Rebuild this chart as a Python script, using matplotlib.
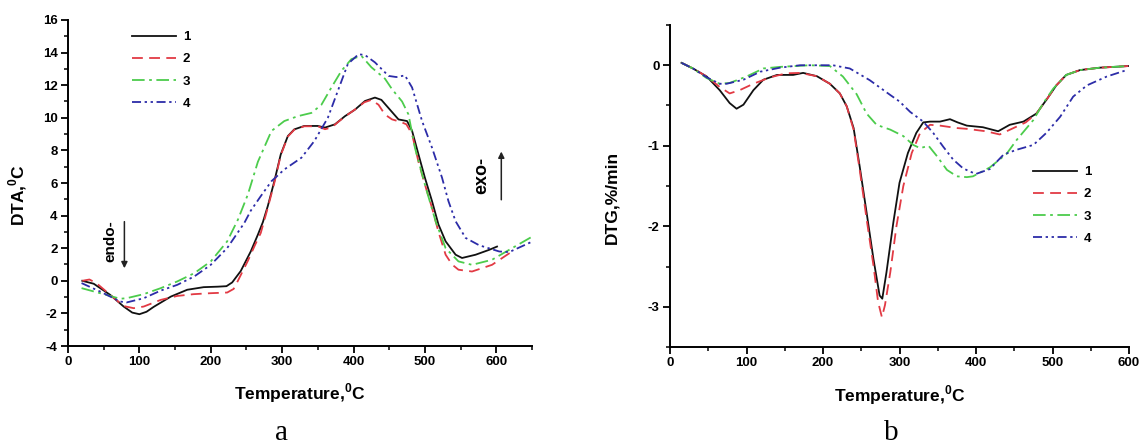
import matplotlib
matplotlib.use("Agg")
import matplotlib.pyplot as plt
from matplotlib.ticker import MultipleLocator

plt.rcParams['font.family'] = ['Liberation Sans', 'DejaVu Sans']
plt.rcParams['font.weight'] = 'bold'
plt.rcParams['axes.unicode_minus'] = False
plt.rcParams['mathtext.fontset'] = 'custom'
plt.rcParams['mathtext.bf'] = 'Liberation Sans:bold'
plt.rcParams['mathtext.rm'] = 'Liberation Sans:bold'

# ---- (a) DTA curves: temperature (deg C) and DTA (deg C) ----
dta_t1 = [20, 36, 59, 78, 90, 100, 110, 120, 144, 167, 190, 210, 222, 230, 242, 256, 266, 273, 280, 289,
          298, 308, 317, 331, 350, 360, 374, 388, 402, 416, 430, 439, 453, 463, 475, 482, 491, 500, 510,
          519, 529, 543, 552, 571, 590, 601]
dta_y1 = [0.0, -0.18, -0.86, -1.58, -1.95, -2.05, -1.9, -1.6, -0.97, -0.55, -0.39, -0.36, -0.33, -0.1, 0.6,
          1.8, 2.83, 3.6, 4.6, 6.1, 7.75, 8.88, 9.29, 9.5, 9.5, 9.4, 9.6, 10.1, 10.5, 11.03, 11.24, 11.1,
          10.4, 9.9, 9.8, 9.2, 7.75, 6.32, 4.88, 3.45, 2.42, 1.6, 1.4, 1.6, 1.9, 2.1]

dta_t2 = [20, 30, 40, 59, 78, 92, 106, 130, 153, 176, 200, 223, 232, 238, 252, 262, 270, 280, 289, 298,
          308, 317, 331, 350, 360, 369, 380, 392, 405, 415, 425, 435, 444, 454, 466, 474, 482, 491, 500,
          510, 519, 529, 538, 547, 566, 594, 622]
dta_y2 = [0.0, 0.08, -0.15, -0.86, -1.55, -1.68, -1.58, -1.17, -0.93, -0.82, -0.76, -0.72, -0.5, 0.0, 1.23,
          2.2, 2.93, 4.5, 6.0, 7.7, 8.85, 9.27, 9.48, 9.48, 9.3, 9.4, 9.8, 10.2, 10.6, 10.95, 11.1, 10.8,
          10.2, 9.9, 9.75, 9.6, 9.0, 7.3, 5.9, 4.47, 3.0, 1.6, 1.0, 0.68, 0.57, 0.98, 1.8]

dta_t3 = [19, 45, 73, 82, 106, 130, 153, 177, 200, 223, 238, 252, 266, 285, 303, 322, 341, 355, 369, 383,
          397, 411, 425, 444, 454, 468, 477, 486, 500, 515, 529, 547, 566, 594, 622, 651]
dta_y3 = [-0.45, -0.76, -1.1, -1.07, -0.82, -0.45, -0.04, 0.47, 1.19, 2.42, 3.75, 5.3, 7.3, 9.19, 9.8,
          10.1, 10.3, 10.8, 11.86, 12.88, 13.6, 13.8, 13.1, 12.4, 11.75, 11.0, 10.2, 8.16, 5.9, 3.65, 2.0,
          1.19, 0.98, 1.29, 2.0, 2.73]

dta_t4 = [19, 45, 73, 82, 106, 130, 153, 177, 200, 223, 247, 256, 270, 285, 303, 327, 345, 364, 378, 392,
          407, 416, 430, 449, 460, 472, 482, 496, 510, 524, 533, 543, 557, 576, 604, 618, 651]
dta_y4 = [-0.14, -0.66, -1.27, -1.33, -1.07, -0.6, -0.25, 0.27, 0.98, 2.01, 3.55, 4.3, 5.19, 6.11, 6.83,
          7.55, 8.57, 10.0, 11.65, 13.3, 13.9, 13.85, 13.4, 12.57, 12.5, 12.6, 11.86, 9.8, 8.16, 6.32,
          4.88, 3.65, 2.63, 2.18, 1.8, 1.76, 2.42]

# ---- (b) DTG curves: temperature (deg C) and DTG (%/min) ----
dtg_t1 = [15, 30, 48, 65, 78, 87, 96, 109, 122, 140, 161, 174, 192, 209, 222, 231, 240, 248, 257, 266,
          274, 277.5, 283, 292, 300, 311, 322, 331, 340, 353, 366, 376, 388, 409, 429, 444, 462, 479, 492,
          505, 518, 536, 562, 599]
dtg_y1 = [0.03, -0.04, -0.14, -0.31, -0.47, -0.54, -0.49, -0.31, -0.18, -0.12, -0.12, -0.095, -0.136,
          -0.23, -0.35, -0.51, -0.78, -1.26, -1.83, -2.41, -2.86, -2.9, -2.57, -1.95, -1.46, -1.09, -0.84,
          -0.71, -0.70, -0.70, -0.67, -0.71, -0.75, -0.77, -0.82, -0.74, -0.70, -0.60, -0.43, -0.25, -0.12,
          -0.06, -0.03, -0.01]

dtg_t2 = [15, 30, 48, 65, 78, 91, 109, 131, 152, 170, 192, 209, 222, 231, 240, 248, 257, 266, 272, 277,
          281, 288, 296, 305, 316, 327, 340, 353, 375, 388, 413, 431, 449, 465, 479, 492, 505, 518, 536,
          562, 599]
dtg_y2 = [0.03, -0.04, -0.14, -0.27, -0.35, -0.31, -0.23, -0.15, -0.10, -0.095, -0.136, -0.23, -0.35,
          -0.51, -0.8, -1.3, -1.91, -2.49, -2.94, -3.13, -2.98, -2.57, -2.0, -1.5, -1.09, -0.84, -0.74,
          -0.75, -0.78, -0.79, -0.82, -0.86, -0.78, -0.71, -0.60, -0.43, -0.25, -0.12, -0.06, -0.03, -0.01]

dtg_t3 = [15, 30, 48, 65, 78, 100, 122, 144, 183, 209, 226, 244, 257, 270, 288, 305, 318, 327, 338, 349,
          362, 375, 388, 396, 418, 440, 453, 475, 488, 501, 518, 536, 562, 599]
dtg_y3 = [0.03, -0.04, -0.16, -0.23, -0.22, -0.14, -0.04, -0.02, 0.0, -0.01, -0.14, -0.36, -0.6, -0.74,
          -0.8, -0.88, -0.99, -1.03, -1.0, -1.13, -1.3, -1.38, -1.39, -1.38, -1.27, -1.1, -0.93, -0.68,
          -0.47, -0.29, -0.12, -0.06, -0.03, -0.01]

dtg_t4 = [15, 30, 48, 65, 74, 96, 118, 144, 170, 213, 235, 261, 288, 300, 314, 331, 344, 357, 370, 383,
          392, 400, 418, 436, 453, 475, 492, 510, 527, 545, 571, 597]
dtg_y4 = [0.03, -0.04, -0.15, -0.23, -0.23, -0.18, -0.08, -0.03, 0.0, 0.0, -0.04, -0.185, -0.37, -0.45,
          -0.58, -0.70, -0.84, -1.01, -1.17, -1.28, -1.32, -1.35, -1.29, -1.11, -1.05, -0.99, -0.84, -0.64,
          -0.39, -0.25, -0.14, -0.06]

series_labels = ['1', '2', '3', '4']
colors = ['#111111', '#e23a44', '#4ccc4c', '#2c2ca8']
dashes = [None, (6, 3.5), (7, 2.5, 1.5, 2.5), (5, 2, 1.3, 2, 1.3, 2)]

W, H = 1144, 444
fig = plt.figure(figsize=(W / 100, H / 100), dpi=100)


def px_axes(left, top, right, bottom):
    return fig.add_axes([left / W, 1 - bottom / H, (right - left) / W, (bottom - top) / H])


def style_axes(ax):
    for side in ('top', 'right'):
        ax.spines[side].set_visible(False)
    for side in ('left', 'bottom'):
        ax.spines[side].set_linewidth(1.4)
    ax.tick_params(which='major', direction='out', length=5, width=1.3, labelsize=9.5, pad=2.5)
    ax.tick_params(which='minor', direction='out', length=3, width=1.1)
    for lab in ax.get_xticklabels() + ax.get_yticklabels():
        lab.set_fontweight('bold')


def draw_series(ax, xs, ys):
    handles = []
    for x, y, c, d, lab in zip(xs, ys, colors, dashes, series_labels):
        line, = ax.plot(x, y, color=c, lw=1.3, label=lab)
        if d is not None:
            line.set_dashes(d)
        handles.append(line)
    return handles


# ---------- panel a ----------
ax1 = px_axes(68, 20, 532, 346)
draw_series(ax1, [dta_t1, dta_t2, dta_t3, dta_t4], [dta_y1, dta_y2, dta_y3, dta_y4])
ax1.set_xlim(0, 650)
ax1.set_ylim(-4, 16)
ax1.xaxis.set_major_locator(MultipleLocator(100))
ax1.xaxis.set_minor_locator(MultipleLocator(50))
ax1.yaxis.set_major_locator(MultipleLocator(2))
ax1.yaxis.set_minor_locator(MultipleLocator(1))
style_axes(ax1)
ax1.set_xlabel(r'Temperature,$^\mathbf{0}$C', fontsize=12.5, fontweight='bold', va='center')
ax1.xaxis.set_label_coords(0.5, -0.144)
ax1.set_ylabel(r'DTA,$^\mathbf{0}$C', fontsize=12.5, fontweight='bold', va='center')
ax1.yaxis.set_label_coords(-0.108, 0.463)
ax1.legend(loc='upper left', bbox_to_anchor=(132 / W, 1 - 31 / H), bbox_transform=fig.transFigure,
           frameon=False, fontsize=9.5, handlelength=3.3, handletextpad=0.55, labelspacing=0.75,
           borderpad=0, borderaxespad=0)
ax1.annotate('', xy=(79, 0.6), xytext=(79, 3.8),
             arrowprops=dict(arrowstyle='-|>', color='#222222', lw=1.1, mutation_scale=9))
ax1.text(59, 2.42, 'endo-', rotation=90, ha='center', va='center', fontsize=11, fontweight='bold')
ax1.annotate('', xy=(607, 8.1), xytext=(607, 4.8),
             arrowprops=dict(arrowstyle='-|>', color='#222222', lw=1.1, mutation_scale=9))
ax1.text(579, 6.48, 'exo-', rotation=90, ha='center', va='center', fontsize=13, fontweight='bold')

# ---------- panel b ----------
ax2 = px_axes(670, 25, 1129, 347)
draw_series(ax2, [dtg_t1, dtg_t2, dtg_t3, dtg_t4], [dtg_y1, dtg_y2, dtg_y3, dtg_y4])
ax2.set_xlim(0, 600)
ax2.set_ylim(-3.5, 0.5)
ax2.xaxis.set_major_locator(MultipleLocator(100))
ax2.xaxis.set_minor_locator(MultipleLocator(50))
ax2.yaxis.set_major_locator(MultipleLocator(1))
ax2.yaxis.set_minor_locator(MultipleLocator(0.5))
style_axes(ax2)
ax2.set_xlabel(r'Temperature,$^\mathbf{0}$C', fontsize=12.5, fontweight='bold', va='center')
ax2.xaxis.set_label_coords(0.5, -0.149)
ax2.set_ylabel('DTG,%/min', fontsize=12.5, fontweight='bold', va='center')
ax2.yaxis.set_label_coords(-0.126, 0.466)
ax2.legend(loc='upper left', bbox_to_anchor=(1033 / W, 1 - 166 / H), bbox_transform=fig.transFigure,
           frameon=False, fontsize=9.5, handlelength=3.3, handletextpad=0.55, labelspacing=0.75,
           borderpad=0, borderaxespad=0)

# panel letters
fig.text(282 / W, 4 / H, 'a', ha='center', va='baseline', fontsize=21, family='Liberation Serif',
         fontweight='normal')
fig.text(891 / W, 4 / H, 'b', ha='center', va='baseline', fontsize=21, family='Liberation Serif',
         fontweight='normal')

fig.savefig('out.png', dpi=100, facecolor='white')
